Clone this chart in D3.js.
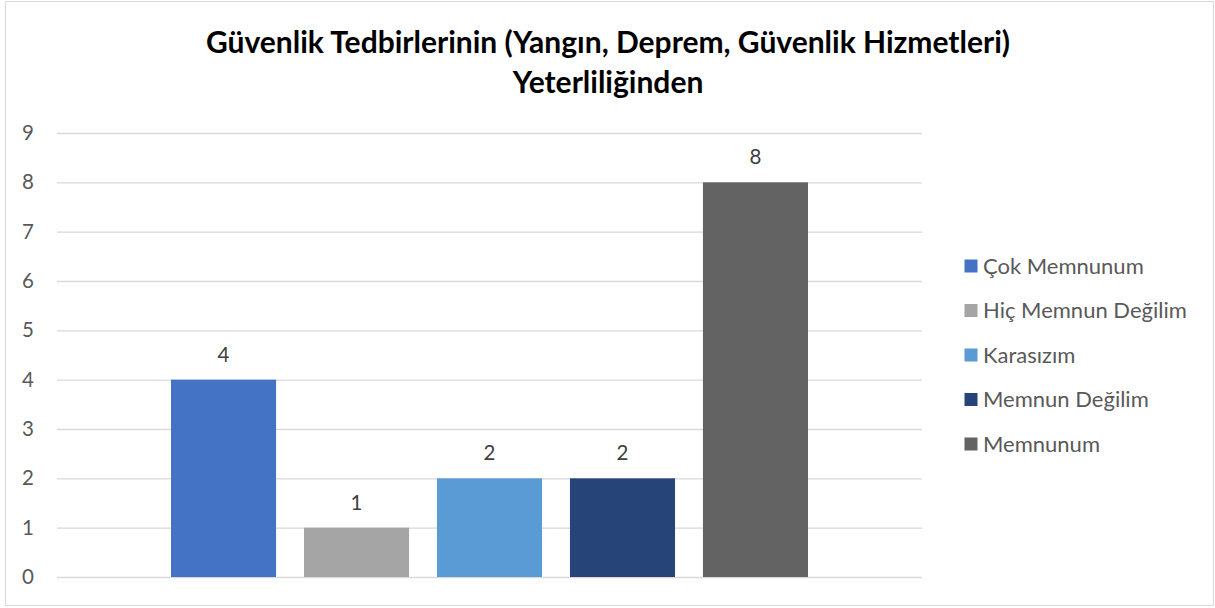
<!DOCTYPE html>
<html><head><meta charset="utf-8">
<script src="https://cdn.jsdelivr.net/npm/d3@7"></script>
<style>body{margin:0;background:#fff;}svg{display:block;}</style>
</head><body>
<svg id="chart" width="1215" height="608"></svg>
<script>
const titleLines = ["Güvenlik Tedbirlerinin (Yangın, Deprem, Güvenlik Hizmetleri)", "Yeterliliğinden"];
const seriesNames = ["Çok Memnunum", "Hiç Memnun Değilim", "Karasızım", "Memnun Değilim", "Memnunum"];
const seriesValues = [4, 1, 2, 2, 8];
const seriesColors = ["#4472C4", "#A5A5A5", "#5B9BD5", "#264478", "#636363"];
const yTicks = [0, 1, 2, 3, 4, 5, 6, 7, 8, 9];

const svg = d3.select("#chart");
const font = "Lato, 'Open Sans', sans-serif";

svg.append("rect").attr("x", 5.5).attr("y", 1.5).attr("width", 1208).attr("height", 604)
  .attr("fill", "#fff").attr("stroke", "#D9D9D9").attr("stroke-width", 1);

const t = svg.append("text").attr("text-anchor", "middle").attr("font-family", font)
  .attr("font-weight", "bold").attr("font-size", 30).attr("fill", "#000");
titleLines.forEach((l, i) => t.append("tspan").attr("x", 608).attr("y", 53 + i * 39.5).text(l));

const plot = {left: 57, right: 922, top: 133, bottom: 577};
const y = d3.scaleLinear().domain([0, 9]).range([plot.bottom, plot.top]);
const x = d3.scaleBand().domain(seriesNames).range([171, 808]).paddingInner(0.21).paddingOuter(0);

const yAxis = svg.append("g").attr("transform", `translate(${plot.left},0)`)
  .call(d3.axisLeft(y).tickValues(yTicks).tickSize(-(plot.right - plot.left)).tickPadding(23).tickFormat(d3.format("d")));
yAxis.select(".domain").remove();
yAxis.selectAll(".tick line").attr("stroke", "#D9D9D9").attr("stroke-width", 1.3);
yAxis.selectAll(".tick text").attr("font-family", font).attr("font-size", 20.5).attr("fill", "#595959");

svg.selectAll("rect.bar").data(seriesValues).join("rect").attr("class", "bar")
  .attr("x", (d, i) => x(seriesNames[i])).attr("width", x.bandwidth())
  .attr("y", d => y(d)).attr("height", d => y(0) - y(d))
  .attr("fill", (d, i) => seriesColors[i]);

svg.selectAll("text.lbl").data(seriesValues).join("text").attr("class", "lbl")
  .attr("x", (d, i) => x(seriesNames[i]) + x.bandwidth() / 2).attr("y", d => y(d) - 18)
  .attr("text-anchor", "middle").attr("font-family", font).attr("font-size", 20.5).attr("fill", "#404040")
  .text(d => d);

const lg = svg.append("g");
seriesNames.forEach((n, i) => {
  const yy = 266 + i * 44.5;
  lg.append("rect").attr("x", 964.5).attr("y", yy - 6.5).attr("width", 13).attr("height", 13).attr("fill", seriesColors[i]);
  lg.append("text").attr("x", 983).attr("y", yy).attr("dy", "0.35em").attr("font-family", font)
    .attr("font-size", 22).attr("fill", "#595959").text(n);
});
</script>
</body></html>
